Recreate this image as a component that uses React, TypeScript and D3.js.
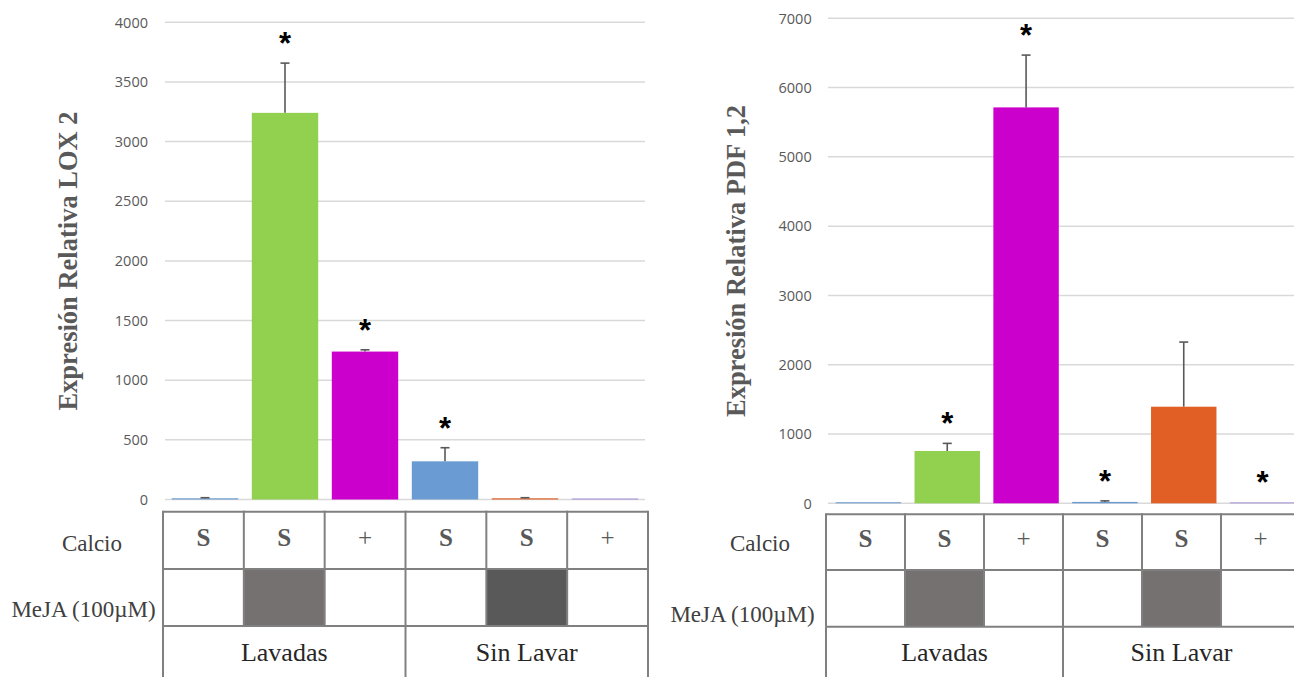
import React from 'react';
import * as d3 from 'd3';

// Treatment table shared by both panels
const CALCIO = ['S', 'S', '+', 'S', 'S', '+'];
const GROUPS = ['Lavadas', 'Sin Lavar'];
const GROUP_SPAN = [3, 3];
const BAR_COLORS = ['#6A9BD3', '#92D050', '#CC00CC', '#6A9BD3', '#E15F25', '#9D88D8'];

// LOX 2 relative expression
const LOX_VALUES = [10, 3241, 1240, 320, 10, 8];
const LOX_ERRORS = [5, 417, 15, 114, 5, 0];
const LOX_SIG = [false, true, true, true, false, false];
const LOX_TICKS = [0, 500, 1000, 1500, 2000, 2500, 3000, 3500, 4000];
const LOX_MEJA = ['', '#767171', '', '', '#595959', ''];

// PDF 1,2 relative expression
const PDF_VALUES = [15, 755, 5714, 20, 1394, 12];
const PDF_ERRORS = [0, 110, 755, 15, 933, 0];
const PDF_SIG = [false, true, true, true, false, true];
const PDF_TICKS = [0, 1000, 2000, 3000, 4000, 5000, 6000, 7000];
const PDF_MEJA = ['', '#767171', '', '', '#767171', ''];

const SERIF = '"Liberation Serif", "Times New Roman", serif';
const SANS = '"Open Sans", "Liberation Sans", sans-serif';
const TABLE_LINE = '#808080';

type Layout = {
  plotX: [number, number];
  y: [number, number];
  tickX: number;
  gridX: [number, number];
  tableX: [number, number];
  tableY: number[];
  titleX: number;
  titleY: number;
  calcioX: number;
  mejaX: number;
  calcioY: number;
  mejaY: number;
  symbolY: number;
  groupY: number;
};

type PanelProps = {
  title: string;
  values: number[];
  errors: number[];
  sig: boolean[];
  ticks: number[];
  meja: string[];
  layout: Layout;
};

function Panel({ title, values, errors, sig, ticks, meja, layout: L }: PanelProps) {
  const idx = values.map((_, i) => i);
  const x = d3.scaleBand<number>().domain(idx).range(L.plotX).paddingInner(0.17).paddingOuter(0.085);
  const y = d3.scaleLinear().domain([0, ticks[ticks.length - 1]]).range(L.y);
  const col = d3.scaleBand<number>().domain(idx).range(L.tableX).padding(0);
  const [r0, r1, r2, r3] = L.tableY;

  // Group boundaries in column units
  const bounds = [0];
  GROUP_SPAN.forEach((s) => bounds.push(bounds[bounds.length - 1] + s));
  const colEdge = (i: number) => (i < idx.length ? (col(i) as number) : L.tableX[1]);

  const starSize = 31;

  return (
    <g>
      {/* gridlines */}
      {ticks.map((t) => (
        <line key={'g' + t} x1={L.gridX[0]} x2={L.gridX[1]} y1={y(t)} y2={y(t)} stroke="#D9D9D9" strokeWidth={1.5} />
      ))}
      {/* tick labels */}
      {ticks.map((t) => (
        <text key={'t' + t} x={L.tickX} y={y(t)} dy="0.36em" textAnchor="end" fontFamily={SANS} fontSize={14.5} fill="#595959">
          {t}
        </text>
      ))}
      {/* axis title */}
      <text
        transform={`translate(${L.titleX},${L.titleY}) rotate(-90)`}
        textAnchor="middle"
        fontFamily={SERIF}
        fontWeight="bold"
        fontSize={26.5}
        fill="#595959"
      >
        {title}
      </text>
      {/* bars */}
      {values.map((v, i) => (
        <rect key={'b' + i} x={x(i)} y={y(v)} width={x.bandwidth()} height={y(0) - y(v)} fill={BAR_COLORS[i]} />
      ))}
      {/* error bars */}
      {values.map((v, i) => {
        if (!errors[i]) return null;
        const cx = (x(i) as number) + x.bandwidth() / 2;
        const top = y(v + errors[i]);
        return (
          <g key={'e' + i} stroke="#595959" strokeWidth={1.6}>
            <line x1={cx} x2={cx} y1={y(v)} y2={top} />
            <line x1={cx - 4.5} x2={cx + 4.5} y1={top} y2={top} />
          </g>
        );
      })}
      {/* significance marks */}
      {values.map((v, i) => {
        if (!sig[i]) return null;
        const cx = (x(i) as number) + x.bandwidth() / 2;
        const cy = y(v + errors[i]) - 27;
        return (
          <text
            key={'s' + i}
            x={cx}
            y={cy + starSize * 0.58}
            textAnchor="middle"
            fontFamily='"Liberation Sans", Arial, sans-serif'
            fontWeight="bold"
            fontSize={starSize}
            fill="#000"
          >
            *
          </text>
        );
      })}

      {/* treatment table: MeJA fills */}
      {meja.map((c, i) =>
        c ? <rect key={'m' + i} x={col(i)} y={r1} width={col.bandwidth()} height={r2 - r1} fill={c} /> : null
      )}
      {/* horizontal rules */}
      {[r0, r1, r2].map((ry, k) => (
        <line key={'h' + k} x1={L.tableX[0]} x2={L.tableX[1]} y1={ry} y2={ry} stroke={TABLE_LINE} strokeWidth={2} />
      ))}
      {/* column rules, upper two rows */}
      {d3.range(idx.length + 1).map((i) => (
        <line key={'v' + i} x1={colEdge(i)} x2={colEdge(i)} y1={r0 - 1} y2={r2} stroke={TABLE_LINE} strokeWidth={2} />
      ))}
      {/* group rules */}
      {bounds.map((b, k) => (
        <line key={'gv' + k} x1={colEdge(b)} x2={colEdge(b)} y1={r2} y2={r3} stroke={TABLE_LINE} strokeWidth={2} />
      ))}
      {/* calcio symbols */}
      {CALCIO.map((s, i) => (
        <text
          key={'c' + i}
          x={(col(i) as number) + col.bandwidth() / 2}
          y={L.symbolY}
          textAnchor="middle"
          fontFamily={SERIF}
          fontWeight={s === 'S' ? 'bold' : 'normal'}
          fontSize={25}
          fill="#595959"
        >
          {s}
        </text>
      ))}
      {/* group names */}
      {GROUPS.map((g, k) => (
        <text
          key={'gn' + k}
          x={(colEdge(bounds[k]) + colEdge(bounds[k + 1])) / 2}
          y={L.groupY}
          textAnchor="middle"
          fontFamily={SERIF}
          fontSize={26}
          fill="#262626"
        >
          {g}
        </text>
      ))}
      {/* row labels */}
      <text x={L.calcioX} y={L.calcioY} textAnchor="middle" fontFamily={SERIF} fontSize={23} fill="#404040">
        Calcio
      </text>
      <text x={L.mejaX} y={L.mejaY} textAnchor="middle" fontFamily={SERIF} fontSize={23} fill="#404040">
        MeJA (100µM)
      </text>
    </g>
  );
}

const LEFT: Layout = {
  plotX: [165, 645],
  y: [499.5, 22.3],
  tickX: 148,
  gridX: [165, 645],
  tableX: [163, 648],
  tableY: [511.7, 569, 626, 690],
  titleX: 77,
  titleY: 261,
  calcioX: 92,
  mejaX: 83.5,
  calcioY: 551,
  mejaY: 617,
  symbolY: 546,
  groupY: 661,
};

const RIGHT: Layout = {
  plotX: [829, 1302],
  y: [503.3, 18.3],
  tickX: 811.7,
  gridX: [828, 1294],
  tableX: [826, 1300],
  tableY: [514.3, 570, 626.7, 690],
  titleX: 745,
  titleY: 261,
  calcioX: 760,
  mejaX: 742.5,
  calcioY: 551,
  mejaY: 621.5,
  symbolY: 547,
  groupY: 661,
};

export default function App() {
  return (
    <svg
      width={1294}
      height={677}
      viewBox="0 0 1294 677"
      style={{ position: 'absolute', left: 0, top: 0, background: '#fff' }}
    >
      <rect width={1294} height={677} fill="#fff" />
      <Panel
        title="Expresión Relativa LOX 2"
        values={LOX_VALUES}
        errors={LOX_ERRORS}
        sig={LOX_SIG}
        ticks={LOX_TICKS}
        meja={LOX_MEJA}
        layout={LEFT}
      />
      <Panel
        title="Expresión Relativa PDF 1,2"
        values={PDF_VALUES}
        errors={PDF_ERRORS}
        sig={PDF_SIG}
        ticks={PDF_TICKS}
        meja={PDF_MEJA}
        layout={RIGHT}
      />
    </svg>
  );
}
